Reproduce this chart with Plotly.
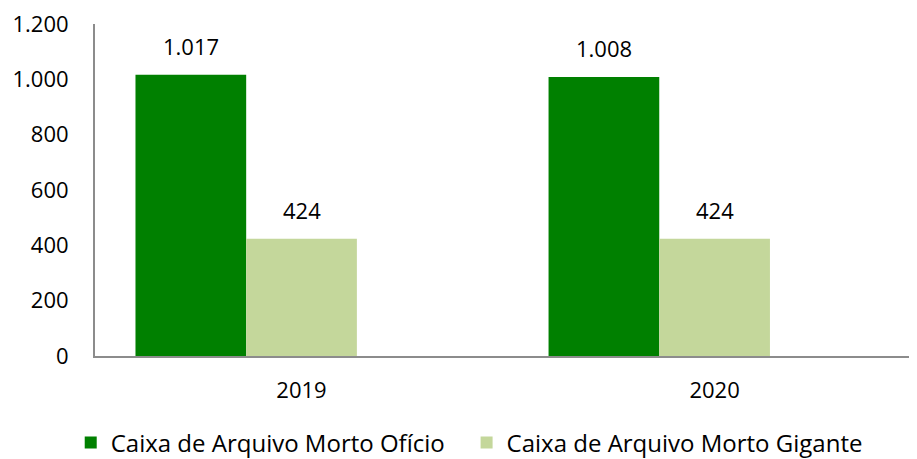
import plotly.graph_objects as go

categories = ["2019", "2020"]
series_names = ["Caixa de Arquivo Morto Ofício", "Caixa de Arquivo Morto Gigante"]
oficio = [1017, 1008]
gigante = [424, 424]
y_ticks = [0, 200, 400, 600, 800, 1000, 1200]

colors = ["#008000", "#C4D79B"]
FONT = "Open Sans"
bar_w = 0.268
offsets = [-1.5 * bar_w, -0.5 * bar_w]  # dark bar left of category centre, light bar centred
legend_ids = ["legend", "legend2"]

fig = go.Figure()
for name, vals, col, off, lg in zip(series_names, [oficio, gigante], colors, offsets, legend_ids):
    fig.add_trace(go.Bar(
        x=list(range(len(categories))), y=vals, name=name,
        marker=dict(color=col, line=dict(width=0)),
        width=bar_w, offset=off, legend=lg,
    ))
    for i, v in enumerate(vals):
        fig.add_annotation(
            x=i + off + bar_w / 2, y=v, xref="x", yref="y",
            text=f"{v:,}".replace(",", "."), showarrow=False,
            yanchor="bottom", yshift=12,
            font=dict(family=FONT, size=22, color="#000000"),
        )

legend_style = dict(
    orientation="h", xref="container", yref="container",
    xanchor="left", y=0.0355, yanchor="middle",
    font=dict(family=FONT, size=24, color="#000000"),
    itemsizing="constant",
)

# page body has an 8px margin, so the figure is sized 8px smaller
fig.update_layout(
    width=909, height=451,
    margin=dict(l=87, r=0, t=16, b=103, autoexpand=False),
    paper_bgcolor="white", plot_bgcolor="white",
    barmode="overlay",
    separators=",.",
    font=dict(family=FONT, size=22, color="#000000"),
    showlegend=True,
    legend=dict(x=0.069, **legend_style),
    legend2=dict(x=0.5045, **legend_style),
    xaxis=dict(
        tickmode="array", tickvals=list(range(len(categories))), ticktext=categories,
        range=[-0.5, 1.49], showgrid=False, zeroline=False,
        showline=True, linecolor="#8c8c8c", linewidth=2,
        ticks="", ticklabelstandoff=14, automargin=False,
        tickfont=dict(family=FONT, size=22),
    ),
    yaxis=dict(
        range=[0, 1200], tickvals=y_ticks, tickformat=",d",
        showgrid=False, zeroline=False,
        showline=True, linecolor="#8c8c8c", linewidth=2,
        ticks="", ticklabelstandoff=20, automargin=False,
        ticklabeloverflow="allow",
        tickfont=dict(family=FONT, size=22),
    ),
)

fig.write_html("out.html")
